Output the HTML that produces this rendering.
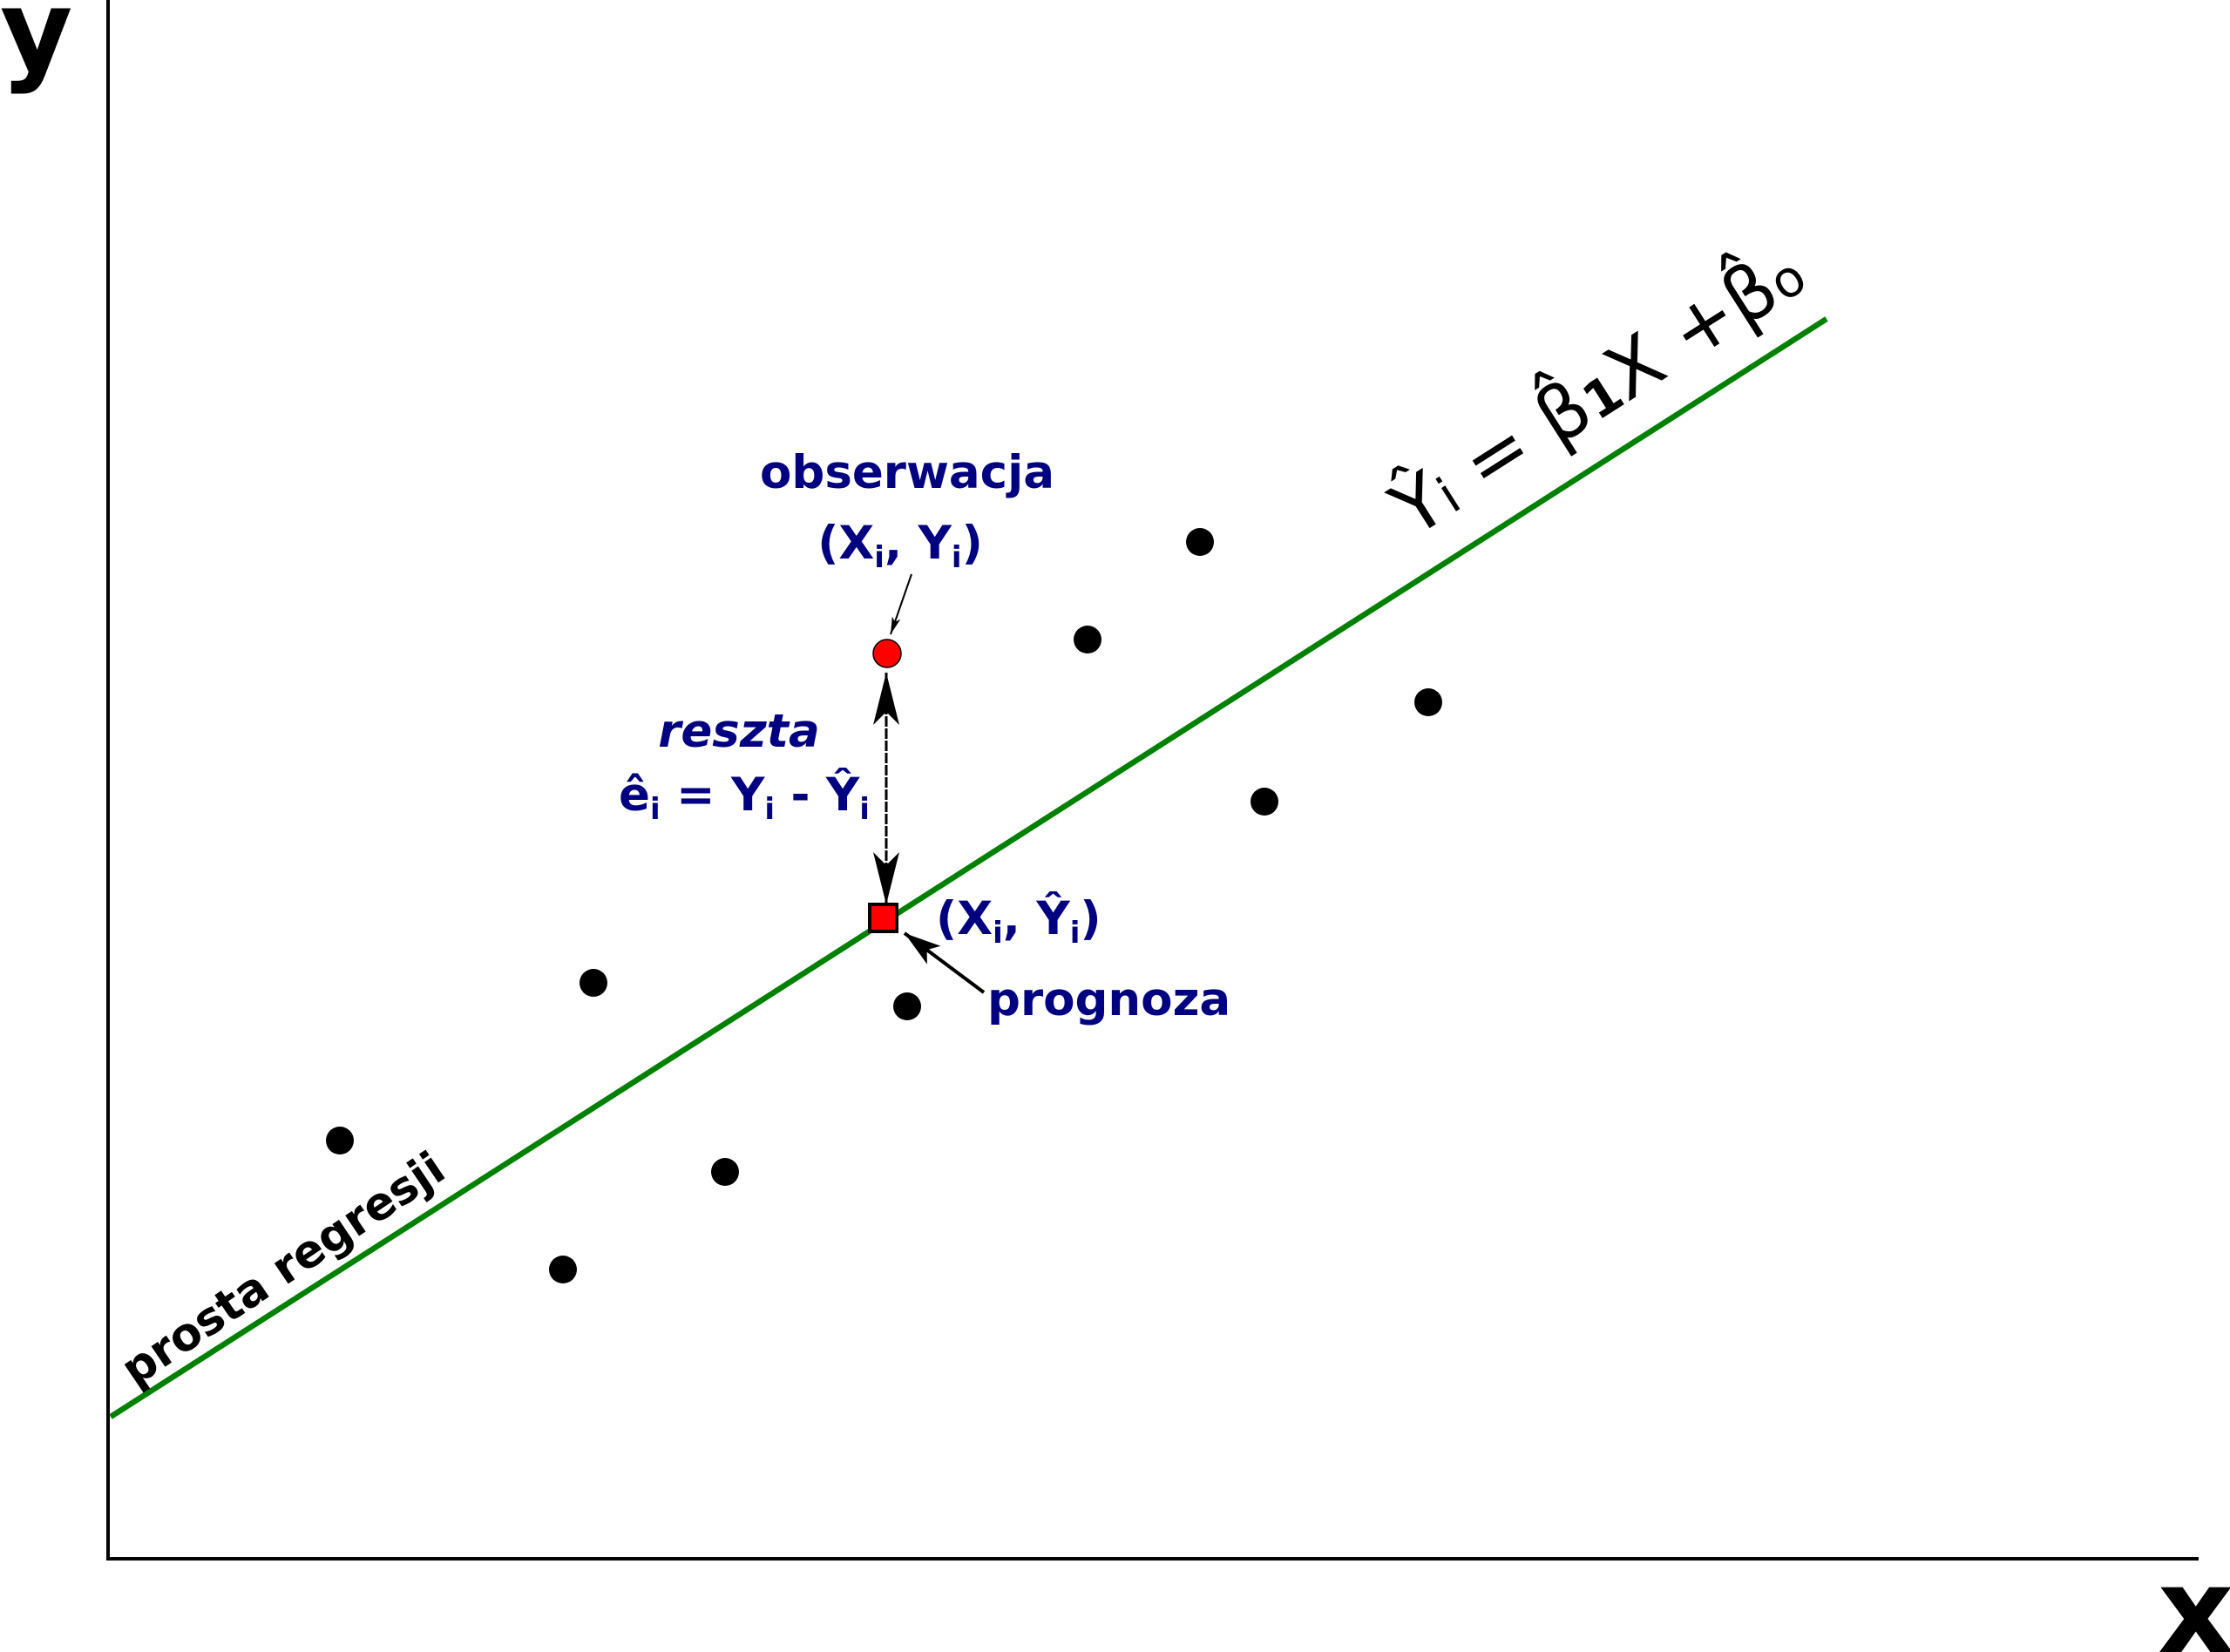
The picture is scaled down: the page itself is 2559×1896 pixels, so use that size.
<!DOCTYPE html>
<html><head><meta charset="utf-8"><style>html,body{margin:0;padding:0;background:#fff}svg{display:block}</style></head>
<body>
<svg width="2559" height="1896" viewBox="0 0 2559 1896" xmlns="http://www.w3.org/2000/svg">
<defs>
<marker id="ah" viewBox="0 0 20 10" refX="20" refY="5" markerWidth="20" markerHeight="10" markerUnits="userSpaceOnUse" orient="auto">
<path d="M0,0 L20,5 L0,10 L5,5 Z" fill="#000"/>
</marker>
<marker id="big" viewBox="0 0 60 30" refX="60" refY="15" markerWidth="60" markerHeight="30" markerUnits="userSpaceOnUse" orient="auto">
<path d="M0,0 L60,15 L0,30 L15,15 Z" fill="#000"/>
</marker>
<marker id="med" viewBox="0 0 42 26" refX="42" refY="13" markerWidth="42" markerHeight="26" markerUnits="userSpaceOnUse" orient="auto">
<path d="M0,0 L42,13 L0,26 L10,13 Z" fill="#000"/>
</marker>
</defs>
<line x1="124" y1="0" x2="124" y2="1790" stroke="#000" stroke-width="4"/>
<line x1="122" y1="1789" x2="2523" y2="1789" stroke="#000" stroke-width="4"/>
<text x="0" y="80" font-family="DejaVu Sans, sans-serif" font-weight="bold" font-size="128">y</text>
<text x="2476" y="1896" font-family="DejaVu Sans, sans-serif" font-weight="bold" font-size="136">x</text>
<line x1="127" y1="1626" x2="2096" y2="366" stroke="#008000" stroke-width="6.5"/>
<g fill="#000">
<circle cx="390" cy="1309" r="16"/>
<circle cx="646" cy="1457" r="16"/>
<circle cx="681" cy="1128" r="16"/>
<circle cx="832" cy="1345" r="16"/>
<circle cx="1041" cy="1155" r="16"/>
<circle cx="1248" cy="734" r="16"/>
<circle cx="1377" cy="622" r="16"/>
<circle cx="1451" cy="920" r="16"/>
<circle cx="1639" cy="806" r="16"/>
</g>
<line x1="1017" y1="1030" x2="1017" y2="772" stroke="#000" stroke-width="3" stroke-dasharray="9,5" marker-end="url(#big)"/>
<line x1="1017" y1="780" x2="1017" y2="1038" stroke="#000" stroke-width="3" stroke-dasharray="9,5" marker-end="url(#big)"/>
<circle cx="1018" cy="750" r="16" fill="#f00" stroke="#000" stroke-width="1.5"/>
<rect x="998" y="1038" width="31" height="31" fill="#f00" stroke="#000" stroke-width="4"/>
<line x1="1046" y1="659" x2="1022" y2="728" stroke="#000" stroke-width="2" marker-end="url(#ah)"/>
<line x1="1129" y1="1139" x2="1038" y2="1071" stroke="#000" stroke-width="4" marker-end="url(#med)"/>
<g font-family="DejaVu Sans, sans-serif" font-weight="bold" fill="#000080" font-size="53">
<text x="1041" y="560" text-anchor="middle">obserwacja</text>
<text x="1033" y="641" text-anchor="middle">(X<tspan font-size="34" dy="10">i</tspan><tspan dy="-10">, Y</tspan><tspan font-size="34" dy="10">i</tspan><tspan dy="-10">)</tspan></text>
<text x="848" y="857" text-anchor="middle" font-style="italic">reszta</text>
<text x="854" y="930" text-anchor="middle">ê<tspan font-size="34" dy="10">i</tspan><tspan dy="-10"> = Y</tspan><tspan font-size="34" dy="10">i</tspan><tspan dy="-10"> - Ŷ</tspan><tspan font-size="34" dy="10">i</tspan></text>
<text x="1074" y="1072">(X<tspan font-size="34" dy="10">i</tspan><tspan dy="-10">, Ŷ</tspan><tspan font-size="34" dy="10">i</tspan><tspan dy="-10">)</tspan></text>
<text x="1133" y="1165">prognoza</text>
</g>
<text transform="translate(155,1592) rotate(-34)" font-family="DejaVu Sans, sans-serif" font-weight="bold" font-size="52" fill="#000">prosta regresji</text>
<text transform="translate(1622,618) rotate(-32.5)" font-family="DejaVu Sans, sans-serif" font-size="86" fill="#000">Ŷ<tspan font-size="58">i</tspan> = β̂<tspan font-size="58" font-weight="bold">1</tspan>X +β̂<tspan font-size="58">o</tspan></text>
</svg>
</body></html>
